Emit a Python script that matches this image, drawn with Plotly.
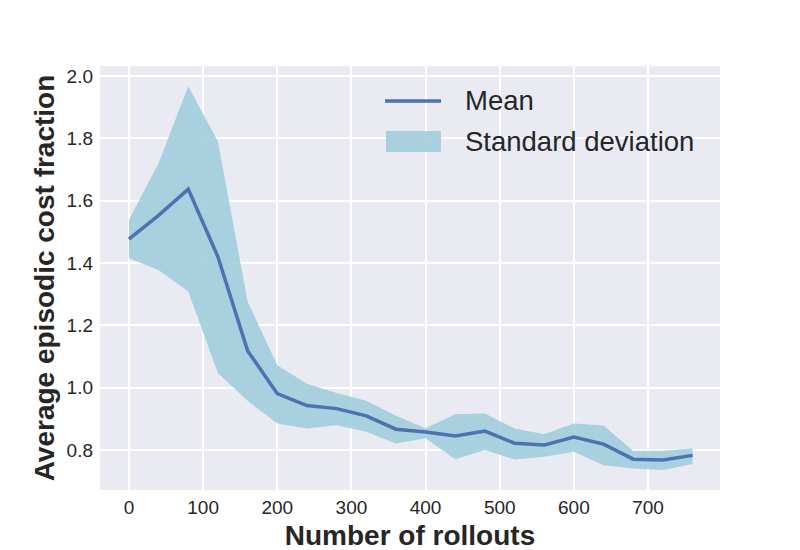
import plotly.graph_objects as go

# rollouts (x) and cost fraction stats
rollouts = [0, 40, 80, 120, 160, 200, 240, 280, 320, 360,
            400, 440, 480, 520, 560, 600, 640, 680, 720, 760]
mean = [1.477, 1.553, 1.637, 1.420, 1.119, 0.981, 0.943, 0.933, 0.910, 0.867,
        0.858, 0.845, 0.861, 0.822, 0.816, 0.842, 0.819, 0.771, 0.768, 0.783]
upper = [1.538, 1.720, 1.967, 1.790, 1.277, 1.072, 1.013, 0.983, 0.958, 0.910,
         0.870, 0.915, 0.917, 0.869, 0.851, 0.885, 0.879, 0.797, 0.798, 0.805]
lower = [1.415, 1.378, 1.309, 1.047, 0.958, 0.885, 0.869, 0.880, 0.859, 0.821,
         0.838, 0.771, 0.800, 0.770, 0.779, 0.795, 0.751, 0.741, 0.736, 0.755]

x_ticks = [0, 100, 200, 300, 400, 500, 600, 700]
y_ticks = [0.8, 1.0, 1.2, 1.4, 1.6, 1.8, 2.0]

FONT = "Liberation Sans, Arial, sans-serif"
TXT = "#262626"
LINE_C = "#4C72B0"
FILL_C = "rgba(158,204,220,0.88)"

fig = go.Figure()

fig.add_trace(go.Scatter(
    x=rollouts, y=lower, mode="lines", line=dict(width=0),
    showlegend=False, hoverinfo="skip",
))
fig.add_trace(go.Scatter(
    x=rollouts, y=upper, mode="lines", line=dict(width=0),
    fill="tonexty", fillcolor=FILL_C,
    name="Standard deviation", showlegend=False,
))
fig.add_trace(go.Scatter(
    x=rollouts, y=mean, mode="lines",
    line=dict(color=LINE_C, width=3.5),
    name="Mean", showlegend=False,
))

# matplotlib-style legend (line handle + patch handle), no frame
fig.add_shape(type="line", xref="paper", yref="paper",
              x0=0.4597, x1=0.5500, y0=0.9175, y1=0.9175,
              line=dict(color=LINE_C, width=3.5))
fig.add_shape(type="rect", xref="paper", yref="paper",
              x0=0.4613, x1=0.5500, y0=0.7972, y1=0.8467,
              fillcolor=FILL_C, line=dict(width=0))
for label, ypos in [("Mean", 0.9175), ("Standard deviation", 0.822)]:
    fig.add_annotation(text=label, xref="paper", yref="paper",
                       x=0.5855, y=ypos, xanchor="left", yanchor="middle",
                       showarrow=False,
                       font=dict(family=FONT, size=27.5, color=TXT))

axis_common = dict(
    showgrid=True, gridcolor="white", gridwidth=2,
    zeroline=False, showline=False, ticks="", automargin=False,
    tickfont=dict(family=FONT, size=19, color=TXT),
)

# page body adds an 8px offset, so margins are trimmed by 8
fig.update_layout(
    width=800, height=550,
    margin=dict(l=92, r=88, t=58, b=68),
    paper_bgcolor="white", plot_bgcolor="#EAEAF2",
    font=dict(family=FONT, color=TXT),
    showlegend=False,
    xaxis=dict(
        range=[-39, 797], tickvals=x_ticks, ticklabelstandoff=4,
        title=dict(text="<b>Number of rollouts</b>", standoff=8,
                   font=dict(family=FONT, size=28, color=TXT)),
        **axis_common,
    ),
    yaxis=dict(
        range=[0.672, 2.032], tickvals=y_ticks, tickformat=".1f",
        ticklabelstandoff=6,
        title=dict(text="<b>Average episodic cost fraction</b>", standoff=3,
                   font=dict(family=FONT, size=28, color=TXT)),
        **axis_common,
    ),
)

fig.write_html("out.html")
